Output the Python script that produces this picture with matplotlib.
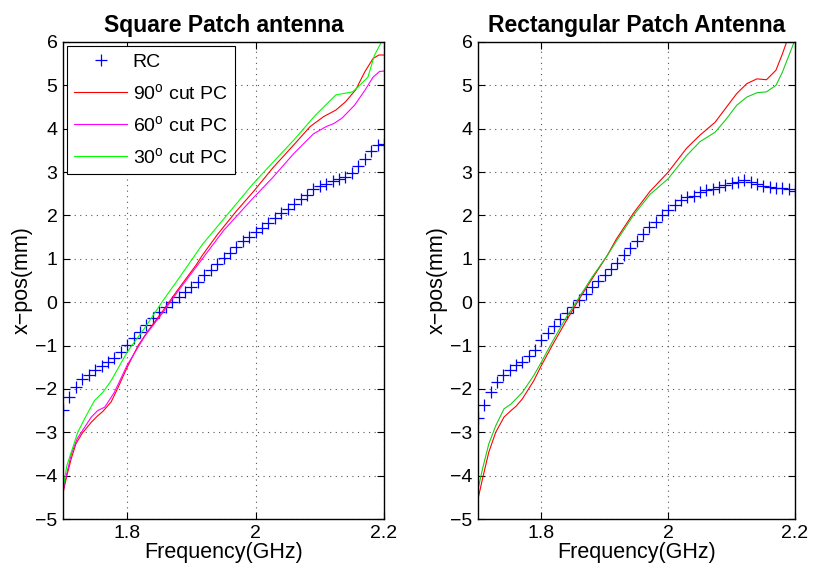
import numpy as np
import matplotlib
matplotlib.use("Agg")
import matplotlib.pyplot as plt

plt.rcParams['font.family'] = ['Liberation Sans', 'DejaVu Sans']
plt.rcParams['mathtext.fontset'] = 'custom'
plt.rcParams['mathtext.rm'] = 'Liberation Sans'
plt.rcParams['mathtext.it'] = 'Liberation Sans'

# RC samples every 10 MHz
freq_rc = np.linspace(1.70, 2.20, 51)  # [GHz]

rc_square = [-2.48, -2.19, -1.96, -1.78, -1.68, -1.56, -1.48, -1.38, -1.28, -1.14,
             -0.98, -0.82, -0.68, -0.52, -0.37, -0.23, -0.12, 0.00, 0.13, 0.23,
             0.35, 0.46, 0.62, 0.75, 0.88, 1.02, 1.14, 1.27, 1.40, 1.50,
             1.62, 1.72, 1.83, 1.94, 2.05, 2.16, 2.27, 2.38, 2.48, 2.60,
             2.67, 2.73, 2.79, 2.84, 2.89, 2.98, 3.13, 3.30, 3.48, 3.62, 3.64]

rc_rect = [-2.68, -2.36, -2.08, -1.83, -1.67, -1.56, -1.46, -1.37, -1.25, -1.10,
           -0.88, -0.72, -0.54, -0.38, -0.25, -0.10, 0.05, 0.18, 0.35, 0.48,
           0.62, 0.76, 0.90, 1.08, 1.25, 1.42, 1.58, 1.73, 1.86, 2.00,
           2.12, 2.23, 2.35, 2.42, 2.46, 2.54, 2.58, 2.62, 2.65, 2.71,
           2.75, 2.78, 2.81, 2.77, 2.73, 2.68, 2.65, 2.64, 2.64, 2.62, 2.56]

# square patch, PC curves
f_sq90 = [1.700, 1.706, 1.713, 1.720, 1.730, 1.744, 1.754, 1.762, 1.775, 1.786, 1.800,
          1.817, 1.833, 1.854, 1.880, 1.907, 1.917, 1.940, 1.970, 1.996, 2.027, 2.059,
          2.085, 2.106, 2.125, 2.140, 2.156, 2.170, 2.183, 2.192, 2.200]
sq90 = [-4.40, -4.00, -3.60, -3.27, -3.02, -2.77, -2.62, -2.52, -2.30, -1.96, -1.50,
        -1.00, -0.65, -0.23, 0.31, 0.85, 1.08, 1.55, 2.10, 2.54, 3.10, 3.62,
        4.05, 4.28, 4.43, 4.62, 4.90, 5.31, 5.62, 5.70, 5.70]

f_sq60 = [1.700, 1.706, 1.713, 1.722, 1.744, 1.754, 1.765, 1.780, 1.800, 1.828, 1.854,
          1.880, 1.917, 1.950, 1.996, 2.027, 2.059, 2.090, 2.110, 2.122, 2.135, 2.154,
          2.170, 2.183, 2.193, 2.200]
sq60 = [-4.35, -3.95, -3.50, -3.15, -2.65, -2.50, -2.42, -2.08, -1.45, -0.77, -0.27,
        0.27, 1.00, 1.65, 2.40, 2.88, 3.42, 3.88, 4.05, 4.12, 4.25, 4.54,
        4.88, 5.19, 5.32, 5.33]

f_sq30 = [1.700, 1.706, 1.723, 1.736, 1.749, 1.762, 1.775, 1.800, 1.828, 1.854, 1.880,
          1.917, 1.996, 2.038, 2.059, 2.093, 2.125, 2.151, 2.162, 2.175, 2.185, 2.196, 2.200]
sq30 = [-4.30, -3.77, -3.00, -2.62, -2.27, -2.08, -1.81, -1.15, -0.58, 0.00, 0.54,
        1.33, 2.73, 3.40, 3.73, 4.31, 4.78, 4.85, 5.00, 5.19, 5.69, 6.00, 6.10]

# rectangular patch, PC curves
f_re = [1.700, 1.707, 1.717, 1.728, 1.741, 1.752, 1.760, 1.770, 1.788, 1.800, 1.817,
        1.838, 1.860, 1.880, 1.904, 1.918, 1.945, 1.971, 2.000, 2.029, 2.050, 2.074,
        2.092, 2.108, 2.124, 2.140, 2.155, 2.170, 2.180, 2.188, 2.200]
re90 = [-4.54, -4.08, -3.46, -3.00, -2.65, -2.50, -2.40, -2.23, -1.81, -1.46, -1.00,
        -0.46, 0.08, 0.54, 1.08, 1.45, 2.05, 2.55, 3.00, 3.55, 3.85, 4.15,
        4.50, 4.81, 5.04, 5.15, 5.13, 5.35, 5.72, 6.05, 6.60]
re30 = [-4.32, -3.85, -3.27, -2.85, -2.46, -2.35, -2.23, -2.08, -1.69, -1.38, -0.92,
        -0.38, 0.12, 0.58, 1.08, 1.40, 2.00, 2.48, 2.85, 3.38, 3.70, 3.92,
        4.23, 4.54, 4.73, 4.83, 4.85, 5.00, 5.30, 5.60, 6.05]

titles = ["Square Patch antenna", "Rectangular Patch Antenna"]
labels = ["RC", "90$^{\\mathrm{o}}$ cut PC", "60$^{\\mathrm{o}}$ cut PC", "30$^{\\mathrm{o}}$ cut PC"]

fig = plt.figure(figsize=(8.13, 5.70), dpi=100, facecolor='white')
ax1 = fig.add_axes([63/813, 51/570, 321/813, 477/570])
ax2 = fig.add_axes([478/813, 51/570, 317/813, 477/570])

# left: square patch
rc1, = ax1.plot(freq_rc, rc_square, '+', color=(0, 0, 1), markersize=8, markeredgewidth=0.9, label=labels[0])
l90, = ax1.plot(f_sq90, sq90, color=(1, 0, 0), linewidth=0.8, label=labels[1])
l60, = ax1.plot(f_sq60, sq60, color=(1, 0, 1), linewidth=0.8, label=labels[2])
l30, = ax1.plot(f_sq30, sq30, color=(0, 1, 0), linewidth=0.8, label=labels[3])

# right: rectangular patch
ax2.plot(freq_rc, rc_rect, '+', color=(0, 0, 1), markersize=8, markeredgewidth=0.9)
ax2.plot(f_re, re90, color=(1, 0, 0), linewidth=0.8)
ax2.plot(f_re, re30, color=(0.1, 0.8, 0.1), linewidth=0.8)

for ax, ttl in zip([ax1, ax2], titles):
    ax.set_xlim(1.7, 2.2)
    ax.set_ylim(-5, 6)
    ax.set_xticks([1.8, 2.0, 2.2])
    ax.set_xticklabels(["1.8", "2", "2.2"])
    ax.set_yticks(np.arange(-5, 7, 1))
    ax.set_yticklabels([str(v).replace('-', '\u2212') for v in range(-5, 7)])
    ax.grid(True, linestyle=(0, (1, 4)), color='#555555', linewidth=0.8)
    ax.tick_params(direction='in', top=True, right=True, length=5, width=0.8,
                   labelsize=14, pad=4, colors='black')
    for s in ax.spines.values():
        s.set_linewidth(1.0)
        s.set_color('black')
    ax.set_title(ttl, fontsize=16.5, fontweight='bold', pad=7)
    ax.set_xlabel("Frequency(GHz)", fontsize=15.5, labelpad=0)
    ax.set_ylabel("x\u2212pos(mm)", fontsize=15.5, labelpad=2)

leg = ax1.legend(handles=[rc1, l90, l60, l30], loc='upper left', fontsize=14,
                 fancybox=False, framealpha=1, edgecolor='black',
                 handlelength=2.7, handletextpad=0.3, labelspacing=0.62,
                 borderpad=0.38, borderaxespad=0.2)
leg.get_frame().set_linewidth(0.8)

fig.savefig("out.png", dpi=100, facecolor='white')
